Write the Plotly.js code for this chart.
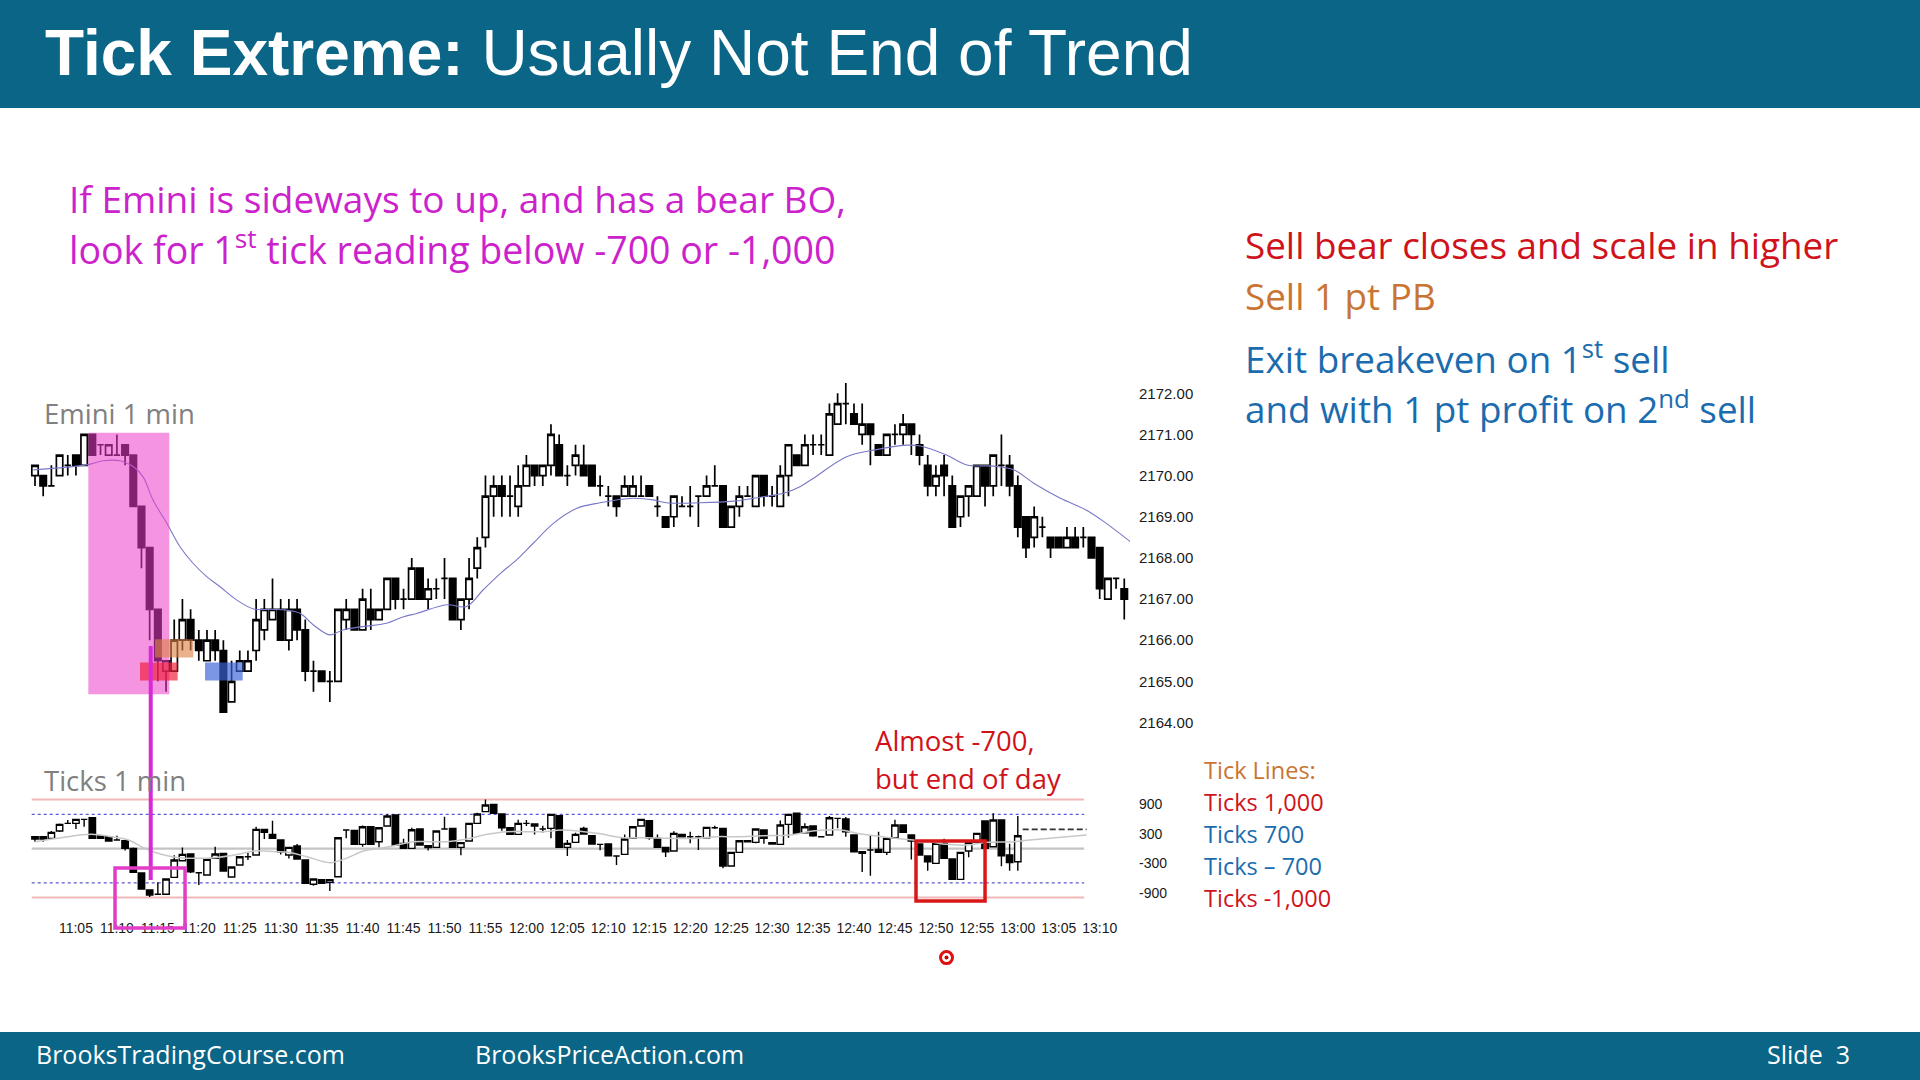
<!DOCTYPE html>
<html>
<head>
<meta charset="utf-8">
<script src="https://cdn.plot.ly/plotly-3.0.1.min.js"></script>
<style>
html,body{margin:0;padding:0;background:#ffffff;}
#chart{width:1920px;height:1080px;}
</style>
</head>
<body>
<div id="chart"></div>
<script>
// ---------------- DATA ----------------
// Emini 1-min bars, one per minute starting 11:00
const priceOpen = [
2170.00,2170.00,2169.75,2170.00,2170.25,2170.50,2170.25,2171.00,2170.75,2170.50,
2170.50,2170.75,2170.50,2169.25,2168.25,2166.75,2165.25,2165.25,2166.00,2166.50,
2166.00,2165.50,2166.00,2165.75,2164.50,2165.25,2165.25,2165.75,2166.25,2166.50,
2166.75,2166.00,2166.75,2166.25,2165.25,2165.25,2165.00,2165.00,2166.50,2166.75,
2166.25,2166.75,2166.50,2166.75,2167.50,2167.00,2167.00,2167.75,2167.00,2167.25,
2167.50,2167.50,2166.50,2167.00,2167.75,2168.50,2169.50,2169.75,2169.50,2169.25,
2169.75,2170.25,2170.00,2170.25,2170.75,2170.00,2170.25,2170.25,2170.25,2169.75,
2169.50,2169.50,2169.50,2169.50,2169.50,2169.75,2169.25,2169.00,2169.00,2169.25,
2169.25,2169.50,2169.50,2169.75,2169.75,2168.75,2169.25,2169.50,2169.25,2170.00,
2169.50,2169.25,2170.00,2170.50,2170.25,2170.75,2170.75,2170.50,2171.25,2171.75,
2171.50,2171.00,2171.25,2170.75,2170.50,2171.00,2171.00,2171.25,2170.75,2170.25,
2169.75,2170.25,2169.75,2169.00,2169.50,2169.50,2170.25,2169.75,2170.25,2170.25,
2169.75,2169.00,2168.50,2168.75,2168.50,2168.50,2168.25,2168.50,2168.50,2168.50,
2168.25,2167.00,2167.50,2167.25];
const priceHigh = [
2170.25,2170.00,2170.25,2170.50,2170.50,2170.50,2171.00,2171.00,2170.75,2170.75,
2171.00,2170.75,2170.50,2169.25,2168.25,2166.75,2165.50,2166.50,2167.00,2166.75,
2166.25,2166.25,2166.25,2166.00,2165.50,2165.75,2165.75,2167.00,2167.00,2167.50,
2167.00,2167.00,2167.00,2166.50,2165.50,2165.25,2165.25,2166.75,2167.00,2166.75,
2167.25,2167.25,2166.75,2167.50,2167.50,2167.25,2168.00,2167.75,2167.50,2167.50,
2168.00,2167.50,2167.00,2168.00,2168.50,2170.00,2170.00,2170.00,2170.00,2170.25,
2170.50,2170.25,2170.25,2171.25,2171.00,2170.25,2170.75,2170.75,2170.25,2170.00,
2169.75,2169.50,2170.00,2170.00,2170.00,2169.75,2169.50,2169.00,2169.50,2169.50,
2169.75,2169.50,2170.00,2170.25,2169.75,2169.25,2169.75,2169.75,2170.00,2170.00,
2169.75,2170.25,2170.75,2170.50,2171.00,2171.00,2171.00,2171.75,2172.00,2172.25,
2171.75,2171.75,2171.25,2170.75,2171.00,2171.25,2171.50,2171.25,2171.00,2170.50,
2170.25,2170.50,2170.00,2169.50,2169.75,2170.25,2170.25,2170.50,2171.00,2170.50,
2170.00,2169.00,2169.25,2169.00,2168.50,2168.50,2168.75,2168.75,2168.75,2168.50,
2168.25,2167.50,2167.50,2167.50];
const priceLow = [
2169.75,2169.50,2169.75,2170.00,2170.00,2170.00,2170.25,2170.50,2170.50,2170.50,
2170.50,2170.25,2169.25,2167.75,2166.00,2165.00,2164.75,2165.25,2165.75,2165.75,
2165.50,2165.50,2165.50,2164.25,2164.50,2165.25,2165.25,2165.50,2166.00,2166.50,
2166.00,2165.75,2166.00,2165.00,2164.75,2165.00,2164.50,2165.00,2166.25,2166.25,
2166.25,2166.25,2166.50,2166.75,2166.75,2166.75,2167.00,2167.00,2166.75,2167.00,
2167.00,2166.50,2166.25,2166.75,2167.50,2168.25,2169.00,2169.00,2169.00,2169.00,
2169.75,2169.75,2169.75,2170.00,2170.00,2169.75,2170.00,2170.00,2169.75,2169.50,
2169.25,2169.00,2169.50,2169.50,2169.50,2169.50,2169.00,2168.75,2168.75,2169.25,
2169.00,2168.75,2169.50,2169.75,2168.75,2168.75,2169.00,2169.50,2169.25,2169.25,
2169.25,2169.25,2169.50,2170.25,2170.25,2170.50,2170.50,2170.50,2171.25,2171.25,
2171.25,2170.75,2170.25,2170.50,2170.50,2170.75,2170.75,2170.50,2170.25,2169.50,
2169.50,2169.50,2168.75,2168.75,2169.00,2169.50,2169.25,2169.50,2169.75,2169.50,
2168.50,2168.00,2168.25,2168.50,2168.00,2168.25,2168.25,2168.25,2168.25,2168.00,
2167.00,2167.00,2167.25,2166.50];
const priceClose = [
2170.25,2169.75,2169.75,2170.50,2170.25,2170.25,2171.00,2170.50,2170.75,2170.75,
2170.50,2170.50,2169.25,2168.25,2166.75,2165.50,2165.50,2166.00,2166.50,2166.00,
2165.75,2166.00,2165.75,2164.25,2165.00,2165.50,2165.50,2166.50,2166.75,2166.75,
2166.00,2166.75,2166.25,2165.25,2165.25,2165.00,2165.00,2166.75,2166.75,2166.25,
2167.00,2166.50,2166.75,2167.50,2167.00,2167.00,2167.75,2167.00,2167.25,2167.25,
2167.50,2166.50,2167.00,2167.50,2168.25,2169.50,2169.75,2169.50,2169.50,2169.75,
2170.25,2170.00,2170.25,2171.00,2170.00,2170.00,2170.50,2170.00,2169.75,2169.75,
2169.50,2169.25,2169.75,2169.75,2169.50,2169.50,2169.25,2168.75,2169.50,2169.25,
2169.25,2169.50,2169.75,2169.75,2168.75,2169.25,2169.50,2169.50,2170.00,2169.50,
2169.50,2170.00,2170.75,2170.25,2170.75,2170.75,2170.75,2171.50,2171.75,2171.75,
2171.25,2171.25,2171.00,2170.50,2171.00,2171.00,2171.25,2171.00,2170.50,2169.75,
2170.00,2170.00,2168.75,2169.50,2169.75,2170.25,2169.75,2170.50,2170.25,2169.75,
2168.75,2168.25,2169.00,2168.75,2168.25,2168.25,2168.50,2168.25,2168.50,2168.00,
2167.25,2167.50,2167.50,2167.00];

// 20-bar average line on the Emini chart (minute, price)
const emaMinute = [-0.2,6.3,8.3,10.4,12,13.2,14.4,16.1,17.7,19.3,21,22.6,24.6,26.7,29.1,30.7,32.4,34,36,37.6,40,42.9,45,46.6,50.3,52.7,54.7,56.8,58.8,60.8,63.3,66.1,69,73,75.5,77.1,81.2,85.3,89.3,91.4,93.4,95,99.1,102.4,106.4,108.1,111.3,113.8,117,119.5,122,125.2,128.4,130.8,133.9];
const emaPrice = [2170.14,2170.26,2170.36,2170.36,2170.22,2169.97,2169.41,2168.84,2168.27,2167.87,2167.54,2167.30,2166.98,2166.76,2166.75,2166.73,2166.65,2166.37,2166.13,2166.25,2166.33,2166.41,2166.57,2166.65,2166.86,2166.82,2167.22,2167.62,2167.95,2168.35,2168.84,2169.20,2169.34,2169.45,2169.41,2169.34,2169.34,2169.38,2169.50,2169.57,2169.73,2169.93,2170.46,2170.62,2170.74,2170.72,2170.50,2170.26,2170.23,2170.14,2169.81,2169.45,2169.16,2168.84,2168.37];

// NYSE tick 1-min bars, one per minute starting 11:00
const tickOpen = [
196,243,209,358,515,515,597,631,257,243,
175,161,5,-499,-845,-933,-933,-587,-247,-111,
-492,-539,-200,-98,-580,-335,-166,-131,393,290,
175,-131,53,-233,-729,-634,-689,-573,379,372,
87,447,141,461,685,107,5,399,60,26,
399,413,26,155,515,754,903,706,427,290,
515,502,399,413,672,26,127,413,263,87,
93,-150,-117,209,461,570,209,26,-50,290,
243,243,223,427,413,-356,-76,161,127,379,
121,87,495,720,324,461,243,277,617,604,
277,-63,-29,-16,-77,223,481,277,93,-151,
-302,107,-213,-628,-50,127,563,39,583,-131,
-267];
const tickHigh = [
243,243,360,510,584,597,597,631,257,243,
263,161,20,-499,-845,-689,-620,-135,20,-111,
-492,-220,36,-98,-376,-166,-84,447,393,570,
175,26,95,-233,-620,-634,-634,223,379,372,
472,447,427,700,685,200,427,413,60,359,
651,413,121,515,734,1000,903,706,427,590,
583,502,467,713,672,174,324,447,263,87,
100,-150,290,460,597,570,290,26,352,290,
345,263,434,467,413,-76,161,161,399,379,
127,576,699,720,516,461,243,665,617,645,
277,-63,277,345,209,590,481,277,93,-151,
107,200,-213,-77,127,311,563,720,583,100,
665];
const tickLow = [
141,141,209,340,515,400,447,200,209,155,
175,-40,-485,-830,-990,-933,-933,-587,-247,-500,
-744,-539,-200,-458,-580,-335,-233,-131,195,209,
-120,-200,-212,-709,-760,-709,-867,-573,209,87,
40,87,30,461,53,5,5,73,-40,26,
399,26,-138,155,515,754,720,366,290,290,
460,290,331,210,26,-150,127,297,93,-35,
-145,-335,-117,209,461,180,26,-170,-50,243,
107,-30,223,400,-400,-356,-76,141,110,100,
93,87,220,311,324,243,230,277,413,243,
-63,-475,-553,-77,-130,223,331,-220,-131,-450,
-302,-200,-628,-628,-177,127,5,39,-360,-450,
-450];
const tickClose = [
243,196,331,495,515,597,597,209,209,155,
175,5,-485,-825,-947,-933,-620,-233,-118,-471,
-492,-220,-111,-458,-376,-166,-166,393,331,209,
-63,26,-212,-709,-620,-709,-634,223,379,87,
447,87,427,665,73,5,386,73,19,359,
399,26,121,515,705,890,720,427,290,515,
515,461,399,699,26,107,290,297,93,87,
-145,-150,195,447,597,223,26,-63,311,243,
243,243,434,427,-356,-76,161,141,399,209,
93,481,699,311,447,263,243,631,617,345,
-63,-97,-29,-77,209,481,331,155,-131,-267,
107,-200,-628,-77,127,311,5,583,-145,-287,
263];

// light grey average on the tick chart (minute, ticks)
const tickAvgMinute = [0,3.2,6.9,9.3,11.4,13.4,15.4,17.5,19.5,21.9,24.4,26.8,29.3,30.9,33.2,36,38,40.1,42.1,44.2,46.2,48.2,50.3,52.7,55.2,57.6,60,62,64.5,68.6,71.8,74.7,77.5,80.8,83.2,85.7,88.9,92.2,95,98.3,101.1,104.4,107.2,109.3,111.3,113.8,116.2,119.5,121.5,128.4];
const tickAvgValue = [141,223,291,243,175,5,-117,-185,-199,-185,-131,-49,-62,-76,-165,-287,-199,-49,5,73,141,141,141,196,291,345,345,345,379,311,223,223,209,209,243,243,264,277,359,379,291,223,175,141,87,73,128,141,175,277];

// last tick reading (dashed) : minute range and level
const tickLastMinute = [120.6, 128.4];
const tickLastValue = [393, 393];

// tick reference lines
const tickLevels = [1000, 700, 0, -700, -1000];
const tickLineSpan = [-0.4, 128.1];

// axis labels
const timeLabels = ['11:05','11:10','11:15','11:20','11:25','11:30','11:35','11:40','11:45','11:50','11:55','12:00','12:05','12:10','12:15','12:20','12:25','12:30','12:35','12:40','12:45','12:50','12:55','13:00','13:05','13:10'];
const sessionStart = '11:00';
const priceTicks = [2164,2165,2166,2167,2168,2169,2170,2171,2172];
const tickAxisTicks = [900,300,-300,-900];
const tickAxisLabels = ['900','300','-300','-900'];

// ---------------- BUILD ----------------
const toMin = t => { const [h,m] = t.split(':').map(Number); const [h0,m0] = sessionStart.split(':').map(Number); return (h*60+m) - (h0*60+m0); };
const priceX = priceOpen.map((_, i) => i);
const tickX = tickOpen.map((_, i) => i);

const W = 1920, H = 1080;
const px = x => x / W;
const py = y => 1 - y / H;

const AXFONT = 'Liberation Sans Narrow, Arial Narrow, Liberation Sans, Arial, sans-serif';
const TXT = 'Open Sans, Noto Sans, sans-serif';

const candleStyle = (w) => ({
  increasing: {line: {color: '#000000', width: w}, fillcolor: '#ffffff'},
  decreasing: {line: {color: '#000000', width: w}, fillcolor: '#000000'},
  whiskerwidth: 0, hoverinfo: 'skip', showlegend: false
});

const traces = [
  {type: 'scatter', mode: 'lines', x: emaMinute, y: emaPrice, xaxis: 'x', yaxis: 'y',
   line: {color: '#7878c8', width: 1.1, shape: 'spline'}, hoverinfo: 'skip', showlegend: false},
  Object.assign({type: 'candlestick', x: priceX, open: priceOpen, high: priceHigh, low: priceLow, close: priceClose,
   xaxis: 'x', yaxis: 'y'}, candleStyle(1.7)),
  {type: 'scatter', mode: 'lines', x: tickAvgMinute, y: tickAvgValue, xaxis: 'x', yaxis: 'y2',
   line: {color: '#c8c8c8', width: 1.5, shape: 'spline'}, hoverinfo: 'skip', showlegend: false},
  Object.assign({type: 'candlestick', x: tickX, open: tickOpen, high: tickHigh, low: tickLow, close: tickClose,
   xaxis: 'x', yaxis: 'y2'}, candleStyle(1.4)),
  {type: 'scatter', mode: 'lines', x: tickLastMinute, y: tickLastValue, xaxis: 'x', yaxis: 'y2',
   line: {color: '#333333', width: 1.6, dash: '6px,3px'}, hoverinfo: 'skip', showlegend: false}
];

const levelStyle = v => (Math.abs(v) === 1000) ? {color: '#f2b8b8', width: 2, dash: 'solid'}
  : (Math.abs(v) === 700) ? {color: '#5a5ad2', width: 1.2, dash: 'dot'}
  : {color: '#c4c4c4', width: 2.2, dash: 'solid'};

const shapes = [
  // header and footer bands
  {type: 'rect', xref: 'paper', yref: 'paper', x0: 0, x1: 1, y0: py(108), y1: 1, fillcolor: '#0a6586', line: {width: 0}, layer: 'below'},
  {type: 'rect', xref: 'paper', yref: 'paper', x0: 0, x1: 1, y0: 0, y1: py(1032), fillcolor: '#0a6586', line: {width: 0}, layer: 'below'},
  // tick reference lines
  ...tickLevels.map(v => ({type: 'line', xref: 'x', yref: 'y2', x0: tickLineSpan[0], x1: tickLineSpan[1], y0: v, y1: v, line: levelStyle(v), layer: 'below'})),
  // pink bear breakout highlight
  {type: 'rect', xref: 'x', yref: 'y', x0: 6.51, x1: 16.4, y0: 2164.685, y1: 2171.04, fillcolor: 'rgba(236,62,200,0.55)', line: {width: 0}},
  // orange (sell 1 pt PB)
  {type: 'rect', xref: 'x', yref: 'y', x0: 14.65, x1: 19.33, y0: 2165.58, y1: 2166.02, fillcolor: 'rgba(222,128,70,0.62)', line: {width: 0}},
  // red (sell bear close)
  {type: 'rect', xref: 'x', yref: 'y', x0: 12.82, x1: 17.42, y0: 2165.02, y1: 2165.46, fillcolor: 'rgba(240,30,60,0.68)', line: {width: 0}},
  // blue (exit)
  {type: 'rect', xref: 'x', yref: 'y', x0: 20.76, x1: 25.36, y0: 2165.02, y1: 2165.46, fillcolor: 'rgba(60,100,215,0.68)', line: {width: 0}},
  // magenta connector
  {type: 'line', xref: 'x', yref: 'paper', x0: 14.13, x1: 14.13, y0: py(646), y1: py(880), line: {color: '#d62ad6', width: 4}},
  // magenta box on tick chart
  {type: 'rect', xref: 'x', yref: 'paper', x0: 9.77, x1: 18.32, y0: py(928), y1: py(868), line: {color: '#e23cc8', width: 3.5}, fillcolor: 'rgba(0,0,0,0)'},
  // red box on tick chart
  {type: 'rect', xref: 'x', yref: 'y2', x0: 107.57, x1: 116.0, y0: -1069, y1: 155, line: {color: '#d81818', width: 3.5}, fillcolor: 'rgba(0,0,0,0)'},
  // red cursor dot
  {type: 'circle', xref: 'paper', yref: 'paper', x0: px(940.5), x1: px(952.5), y0: py(963.6), y1: py(951.6), fillcolor: '#ffffff', line: {color: '#e01010', width: 3}},
  {type: 'circle', xref: 'paper', yref: 'paper', x0: px(944.5), x1: px(948.5), y0: py(959.6), y1: py(955.6), fillcolor: '#c00000', line: {width: 0}}
];

const ann = (text, x, y, size, color, extra) => Object.assign({
  text, xref: 'paper', yref: 'paper', x: px(x), y: py(y), xanchor: 'left', yanchor: 'middle',
  showarrow: false, font: {family: TXT, size, color}, borderpad: 0
}, extra || {});

const MAG = '#cc22cc', RED = '#d0121b', BROWN = '#c97432', BLUE = '#1b6cae', GREY = '#808080';

const annotations = [
  ann('<b>Tick Extreme:</b> Usually Not End of Trend', 44, 53, 64, '#ffffff', {font: {family: 'Liberation Sans, Arial, sans-serif', size: 64, color: '#ffffff'}}),
  ann('If Emini is sideways to up, and has a bear BO,', 68, 198, 37, MAG),
  ann('look for 1<sup>st</sup> tick reading below -700 or -1,000', 68, 247, 37.5, MAG),
  ann('Sell bear closes and scale in higher', 1244, 245, 36.8, RED),
  ann('Sell 1 pt PB', 1244, 296, 36.8, BROWN),
  ann('Exit breakeven on 1<sup>st</sup> sell', 1244, 357, 36.8, BLUE),
  ann('and with 1 pt profit on 2<sup>nd</sup> sell', 1244, 407, 36.8, BLUE),
  ann('Emini 1 min', 43, 413, 27.5, GREY),
  ann('Ticks 1 min', 43, 780, 27.5, GREY),
  ann('Almost -700,', 874, 740, 27.5, RED),
  ann('but end of day', 874, 778, 27.5, RED),
  ann('Tick Lines:', 1203, 770, 23.5, BROWN),
  ann('Ticks 1,000', 1203, 802, 23.5, RED),
  ann('Ticks 700', 1203, 834, 23.5, BLUE),
  ann('Ticks \u2013 700', 1203, 866, 23.5, BLUE),
  ann('Ticks -1,000', 1203, 898, 23.5, RED),
  ann('BrooksTradingCourse.com', 35, 1054, 25, '#ffffff'),
  ann('BrooksPriceAction.com', 474, 1054, 25, '#ffffff'),
  ann('Slide\u00a0\u00a03', 1851, 1054, 25, '#ffffff', {xanchor: 'right'})
];

const layout = {
  width: W, height: H, margin: {l: 0, r: 0, t: 0, b: 0, pad: 0},
  paper_bgcolor: '#ffffff', plot_bgcolor: 'rgba(0,0,0,0)',
  showlegend: false, boxgap: 0.22, boxgroupgap: 0, dragmode: false,
  xaxis: {
    domain: [px(27), px(1130)], range: [-0.977, 133.7], anchor: 'y2',
    tickmode: 'array', tickvals: timeLabels.map(toMin), ticktext: timeLabels,
    showgrid: false, zeroline: false, showline: false, ticks: '',
    tickfont: {family: AXFONT, size: 14, color: '#1a1a1a'}, ticklabelstandoff: 8,
    rangeslider: {visible: false}, fixedrange: true
  },
  yaxis: {
    domain: [py(735), py(375)], range: [2163.696, 2172.445], side: 'right', anchor: 'x',
    tickmode: 'array', tickvals: priceTicks, tickformat: '.2f',
    showgrid: false, zeroline: false, showline: false, ticks: '',
    tickfont: {family: AXFONT, size: 15, color: '#1a1a1a'}, ticklabelstandoff: 8, fixedrange: true
  },
  yaxis2: {
    domain: [py(910), py(790)], range: [-1253, 1196], side: 'right', anchor: 'x',
    tickmode: 'array', tickvals: tickAxisTicks, ticktext: tickAxisLabels,
    showgrid: false, zeroline: false, showline: false, ticks: '',
    tickfont: {family: AXFONT, size: 14, color: '#1a1a1a'}, ticklabelstandoff: 8, fixedrange: true
  },
  shapes, annotations
};

Plotly.newPlot('chart', traces, layout, {staticPlot: true, displayModeBar: false});
</script>
</body>
</html>
